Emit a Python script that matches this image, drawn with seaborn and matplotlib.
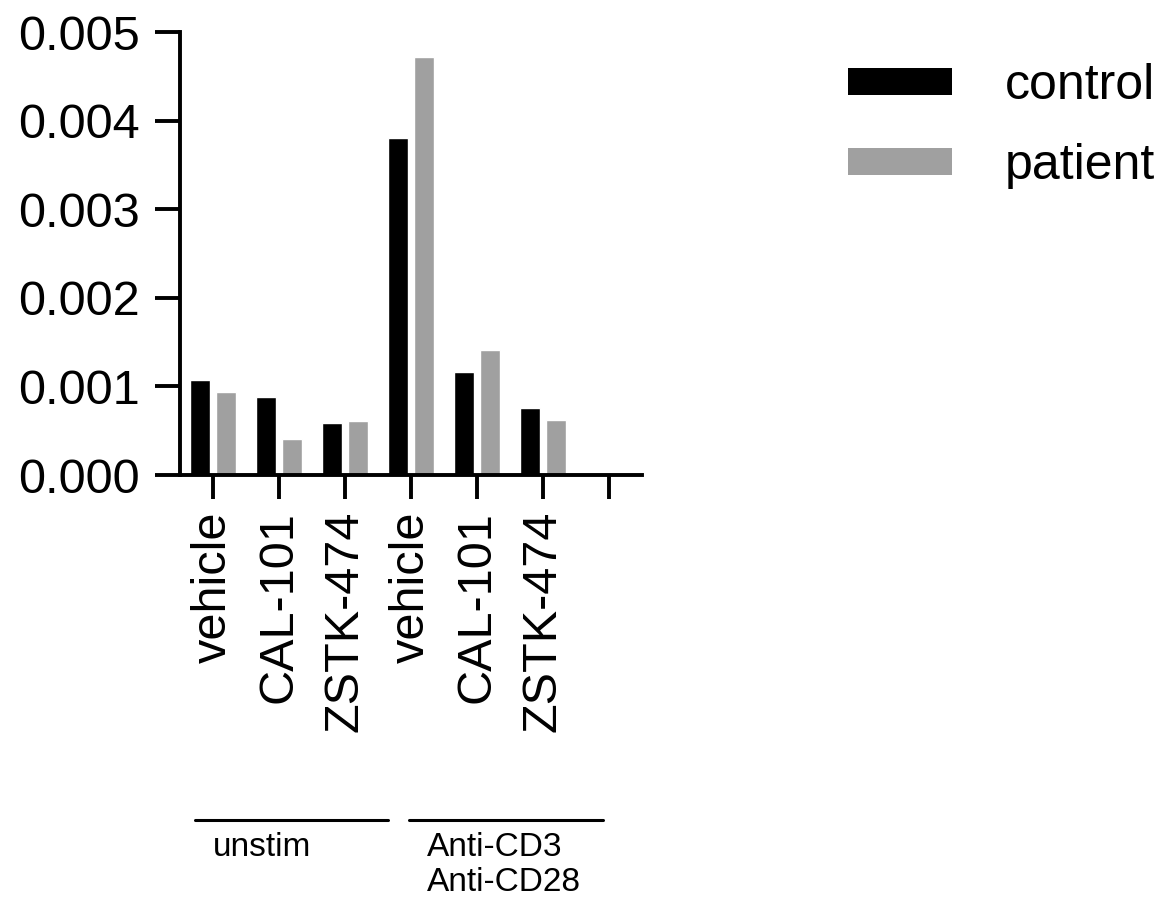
import pandas as pd
import numpy as np
import matplotlib
matplotlib.use('Agg')
import matplotlib.pyplot as plt
import seaborn as sns
from matplotlib.patches import Patch

# data
conditions = ['unstim vehicle', 'unstim CAL-101', 'unstim ZSTK-474',
              'stim vehicle', 'stim CAL-101', 'stim ZSTK-474']
tick_labels = ['vehicle', 'CAL-101', 'ZSTK-474', 'vehicle', 'CAL-101', 'ZSTK-474', '']
control = [0.00107, 0.00088, 0.00059, 0.00380, 0.00116, 0.00076]
patient = [0.00094, 0.00041, 0.00061, 0.00472, 0.00141, 0.00062]
groups = ['control', 'patient']
group_labels = ['unstim', 'Anti-CD3\nAnti-CD28']

colors = {'control': '#000000', 'patient': '#a0a0a0'}

df = pd.DataFrame({
    'condition': conditions * 2,
    'group': ['control'] * len(control) + ['patient'] * len(patient),
    'value': control + patient,
})

sns.set_style('white')
plt.rcParams['font.family'] = ['Liberation Sans', 'DejaVu Sans']
plt.rcParams.update({'text.color': 'black', 'xtick.color': 'black',
                     'ytick.color': 'black', 'axes.edgecolor': 'black'})

fig = plt.figure(figsize=(11.72, 8.98), dpi=100)
ax = fig.add_axes([180 / 1172, 1 - 475 / 898, 462 / 1172, 443 / 898])

sns.barplot(data=df, x='condition', y='value', hue='group', order=conditions,
            hue_order=groups, palette=colors, width=0.79, gap=0.2,
            saturation=1, errorbar=None, ax=ax, legend=False)

ax.set_xlim(-0.5, 6.5)
ax.set_ylim(0, 0.005)
yt = np.arange(0, 0.0051, 0.001)
ax.set_yticks(yt)
ax.set_yticklabels([f'{v:.3f}' for v in yt], fontsize=35)
ax.set_xticks(range(len(tick_labels)))
ax.set_xticklabels(tick_labels, rotation=90, fontsize=35)
ax.set_xlabel('')
ax.set_ylabel('')

for side in ['top', 'right']:
    ax.spines[side].set_visible(False)
for side in ['left', 'bottom']:
    ax.spines[side].set_linewidth(2.8)
ax.tick_params(axis='y', length=18, width=2.8, direction='out', left=True, pad=11)
ax.tick_params(axis='x', length=17, width=2.8, direction='out', bottom=True, pad=9)

# group brackets below the tick labels
for x0, x1 in [(195, 388), (409, 603)]:
    fig.add_artist(plt.Line2D([x0 / 1172, x1 / 1172], [1 - 820 / 898] * 2,
                              color='black', lw=2.2))
fig.text(213 / 1172, 1 - 832 / 898, group_labels[0], fontsize=24, va='top', ha='left')
fig.text(427 / 1172, 1 - 832 / 898, group_labels[1], fontsize=24, va='top', ha='left',
         linespacing=1.15)

handles = [Patch(facecolor=colors[g], edgecolor='none') for g in groups]
fig.legend(handles, groups, loc='upper left', bbox_to_anchor=(848 / 1172, 1 - 63 / 898),
           frameon=False, fontsize=36, handlelength=2.08, handleheight=0.46,
           handletextpad=1.06, labelspacing=0.68, borderpad=0, borderaxespad=0)

fig.savefig('out.png', dpi=100)
